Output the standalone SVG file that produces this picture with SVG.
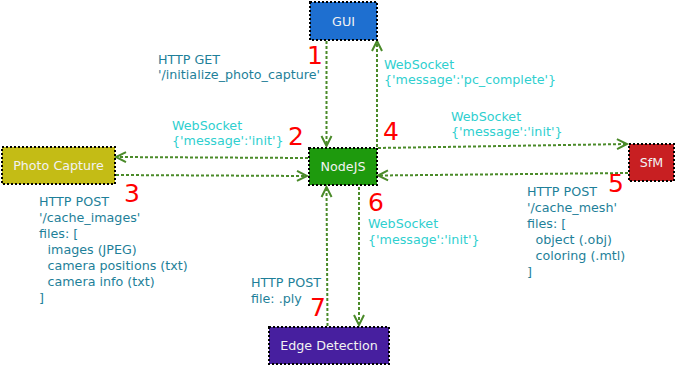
<svg xmlns="http://www.w3.org/2000/svg" width="676" height="366" viewBox="0 0 676 366">
  <style>
    .node rect { stroke: #000; stroke-width: 2; stroke-dasharray: 2 2; }
    .node text { font-family: "DejaVu Sans", sans-serif; font-size: 12.7px; fill: #f2f2f2; text-anchor: middle; }
    .edge { fill: none; stroke: #4a8a29; stroke-width: 2; stroke-dasharray: 3 2; }
    .lbl { font-family: "DejaVu Sans", sans-serif; font-size: 12.7px; }
    .http { fill: #1e7f99; }
    .ws { fill: #2fcfcf; }
    .num { font-family: "DejaVu Sans", sans-serif; font-size: 25px; fill: #ff0000; }
  </style>
  <defs>
    <marker id="arrow" markerUnits="userSpaceOnUse" markerWidth="14" markerHeight="14" refX="11" refY="6" orient="auto" viewBox="0 0 14 12">
      <path d="M1,1 L11,6 L1,11" fill="none" stroke="#4a8a29" stroke-width="2" stroke-dasharray="none"/>
    </marker>
  </defs>
  <rect width="676" height="366" fill="#fff"/>

  <!-- connectors -->
  <g id="connectors">
    <line class="edge" x1="326.5" y1="41" x2="326.5" y2="146" marker-end="url(#arrow)"/>
    <line class="edge" x1="377" y1="147" x2="377" y2="41" marker-end="url(#arrow)"/>
    <line class="edge" x1="308" y1="158" x2="116" y2="157" marker-end="url(#arrow)"/>
    <line class="edge" x1="116" y1="175" x2="307" y2="176" marker-end="url(#arrow)"/>
    <line class="edge" x1="378" y1="148" x2="627" y2="144" marker-end="url(#arrow)"/>
    <line class="edge" x1="628" y1="173" x2="378" y2="175.5" marker-end="url(#arrow)"/>
    <line class="edge" x1="359" y1="187" x2="359" y2="325" marker-end="url(#arrow)"/>
    <line class="edge" x1="327.5" y1="326" x2="326.5" y2="187" marker-end="url(#arrow)"/>
  </g>

  <!-- nodes -->
  <g id="gui" class="node">
    <rect x="310" y="2" width="67" height="38" fill="#1e6fd0"/>
    <text x="343.5" y="25.5">GUI</text>
  </g>
  <g id="photo-capture" class="node">
    <rect x="2" y="147" width="113" height="37" fill="#c4bc15"/>
    <text x="58.5" y="170">Photo Capture</text>
  </g>
  <g id="nodejs" class="node">
    <rect x="309" y="148" width="68" height="37" fill="#1e9a0d"/>
    <text x="343" y="170.5">NodeJS</text>
  </g>
  <g id="sfm" class="node">
    <rect x="629" y="144" width="45" height="37" fill="#c81f22"/>
    <text x="651.5" y="167">SfM</text>
  </g>
  <g id="edge-detection" class="node">
    <rect x="269" y="327" width="120" height="37" fill="#471f9f"/>
    <text x="329" y="350">Edge Detection</text>
  </g>

  <!-- labels -->
  <g id="labels">
    <text class="lbl http" x="158" y="64">HTTP GET</text>
    <text class="lbl http" x="158" y="79">'/initialize_photo_capture'</text>
    <text class="num" x="307" y="64">1</text>

    <text class="lbl ws" x="384" y="69">WebSocket</text>
    <text class="lbl ws" x="384" y="84">{'message':'pc_complete'}</text>

    <text class="lbl ws" x="172" y="130">WebSocket</text>
    <text class="lbl ws" x="172" y="145">{'message':'init'}</text>
    <text class="num" x="288" y="145">2</text>

    <text class="num" x="383" y="140">4</text>
    <text class="lbl ws" x="451" y="121">WebSocket</text>
    <text class="lbl ws" x="451" y="136">{'message':'init'}</text>

    <text class="num" x="124" y="202">3</text>
    <text class="lbl http" x="39" y="206">HTTP POST</text>
    <text class="lbl http" x="39" y="222">'/cache_images'</text>
    <text class="lbl http" x="39" y="238">files: [</text>
    <text class="lbl http" x="47.5" y="254">images (JPEG)</text>
    <text class="lbl http" x="47.5" y="270">camera positions (txt)</text>
    <text class="lbl http" x="47.5" y="286">camera info (txt)</text>
    <text class="lbl http" x="39" y="302">]</text>

    <text class="num" x="608" y="192">5</text>
    <text class="lbl http" x="527" y="196">HTTP POST</text>
    <text class="lbl http" x="527" y="212">'/cache_mesh'</text>
    <text class="lbl http" x="527" y="228">files: [</text>
    <text class="lbl http" x="535.5" y="244">object (.obj)</text>
    <text class="lbl http" x="535.5" y="260">coloring (.mtl)</text>
    <text class="lbl http" x="527" y="276">]</text>

    <text class="num" x="368" y="211">6</text>
    <text class="lbl ws" x="368" y="228">WebSocket</text>
    <text class="lbl ws" x="368" y="244">{'message':'init'}</text>

    <text class="lbl http" x="251" y="287">HTTP POST</text>
    <text class="lbl http" x="251" y="303">file: .ply</text>
    <text class="num" x="310" y="316">7</text>
  </g>
</svg>
